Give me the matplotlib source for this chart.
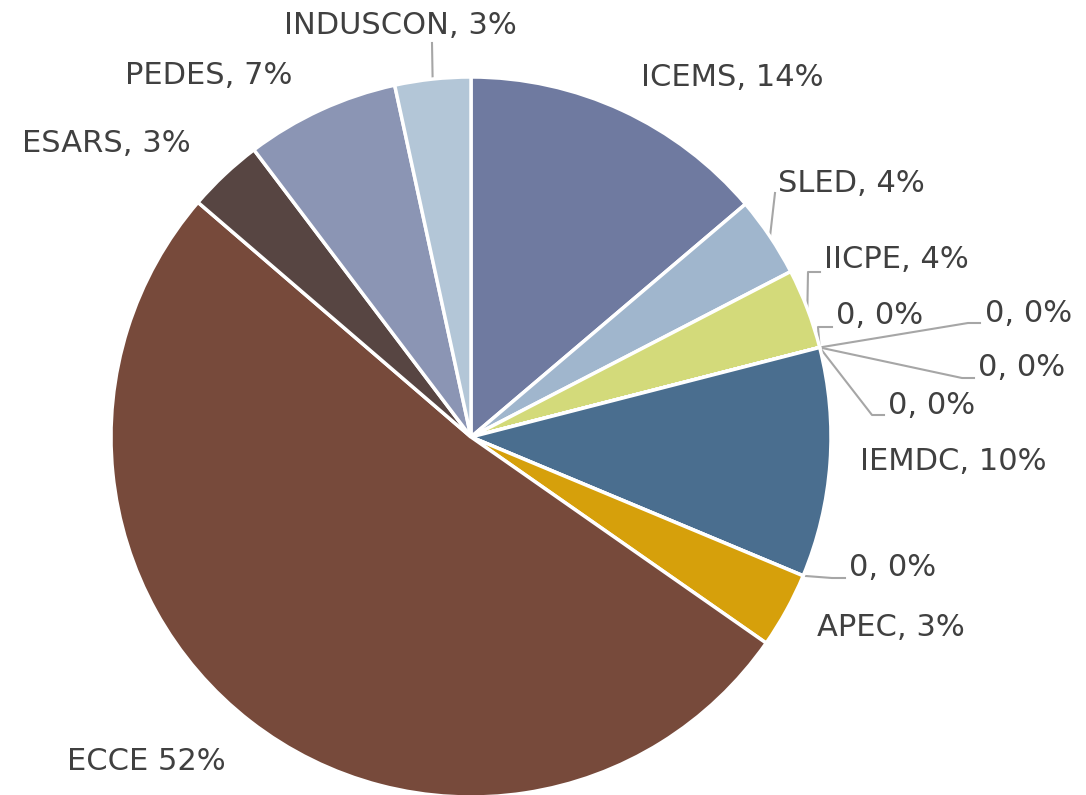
import numpy as np
import matplotlib.pyplot as plt

# conference share in percent (clockwise from 12 o'clock)
names = ['ICEMS', 'SLED', 'IICPE', '0', '0', '0', '0', 'IEMDC', '0', 'APEC',
         'ECCE', 'ESARS', 'PEDES', 'INDUSCON']
shares = [13.8, 3.6, 3.6, 0, 0, 0, 0, 10.3, 0, 3.4, 51.6, 3.4, 6.9, 3.4]
colors = ['#6F7AA0', '#A0B6CD', '#D3DA7A', '#A5A5A5', '#A5A5A5', '#A5A5A5',
          '#A5A5A5', '#4A6E8F', '#A5A5A5', '#D6A00B', '#774A3B', '#574542',
          '#8B95B4', '#B3C6D7']

W, H = 1086, 795
def py(y):
    return H - y

# label layout in pixels: (x, y, ha, elbow or None)
layout = [
    (641, 77, 'left', None),
    (778, 183, 'left', [(775, 193)]),
    (824, 260, 'left', [(808, 272), (820, 272)]),
    (836, 316, 'left', [(818, 327), (832, 327)]),
    (985, 313, 'left', [(968, 323), (980, 323)]),
    (978, 368, 'left', [(962, 378), (974, 378)]),
    (888, 405, 'left', [(872, 415), (884, 415)]),
    (860, 462, 'left', None),
    (849, 567, 'left', [(832, 578), (845, 578)]),
    (817, 628, 'left', None),
    (146, 762, 'center', None),
    (106, 144, 'center', None),
    (209, 76, 'center', None),
    (400, 25, 'center', [(432, 43)]),
]

fig = plt.figure(figsize=(10.86, 7.95), dpi=100)
ax = fig.add_axes([0, 0, 1, 1])
cx, cy, R = 471, py(437), 360

wedges, _ = ax.pie(shares, colors=colors, startangle=90, counterclock=False,
                   center=(cx, cy), radius=R,
                   wedgeprops=dict(edgecolor='white', linewidth=2.5))

total = sum(shares)
for w, name, v, (tx, ty, ha, elbow) in zip(wedges, names, shares, layout):
    pct = 100 * v / total
    sep = ' ' if name == 'ECCE' else ', '
    ax.text(tx, py(ty), f'{name}{sep}{pct:.0f}%', ha=ha, va='center',
            fontsize=22, color='#404040')
    if elbow:
        ang = np.deg2rad((w.theta1 + w.theta2) / 2)
        xs = [cx + R * np.cos(ang)] + [p[0] for p in elbow]
        ys = [cy + R * np.sin(ang)] + [py(p[1]) for p in elbow]
        ax.plot(xs, ys, color='#A6A6A6', lw=1.5, zorder=0.5)

ax.set_xlim(0, W)
ax.set_ylim(0, H)
ax.set_aspect('equal')
ax.axis('off')

plt.savefig('out.png', dpi=100)
